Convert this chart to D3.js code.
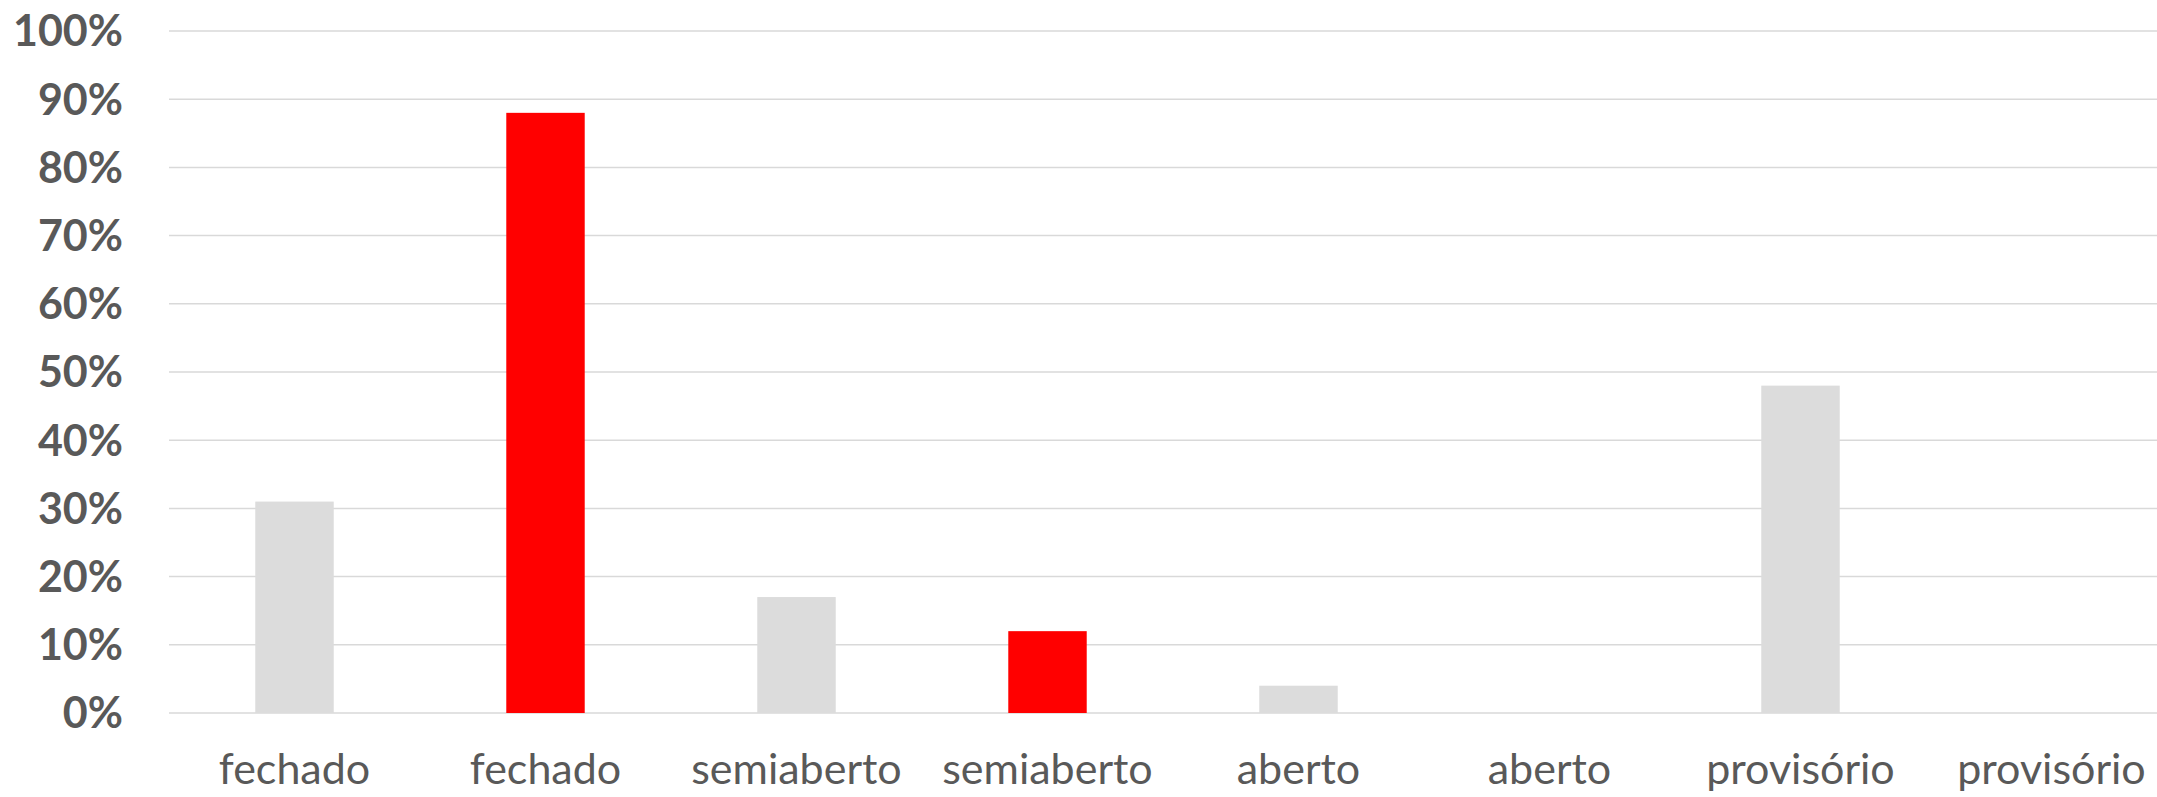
<!DOCTYPE html>
<html lang="pt">
  <head>
    <meta charset="utf-8" />
    <title>Regime</title>
    <script src="https://d3js.org/d3.v7.min.js"></script>
    <style>
      body { margin: 0; background: #fff; }
      .ylab { font-family: Lato, sans-serif; font-weight: bold; font-size: 43px; fill: #595959; }
      .xlab { font-family: Lato, sans-serif; font-size: 43px; fill: #595959; }
    </style>
  </head>
  <body>
    <svg width="2157" height="797"></svg>
    <script>
      // categories in drawing order (each regime appears twice: gray, then red)
      const categories = ["fechado", "fechado", "semiaberto", "semiaberto", "aberto", "aberto", "provisório", "provisório"];
      const values = [31, 88, 17, 12, 4, 0, 48, 0];
      const colors = ["#dcdcdc", "#ff0000", "#dcdcdc", "#ff0000", "#dcdcdc", "#ff0000", "#dcdcdc", "#ff0000"];
      const yTicks = [0, 10, 20, 30, 40, 50, 60, 70, 80, 90, 100];

      const data = categories.map((c, i) => ({ i: i, cat: c, value: values[i], color: colors[i] }));

      const svg = d3.select("svg");
      const plot = { left: 169, right: 2177, top: 31, bottom: 713 };

      const x = d3.scaleBand()
        .domain(d3.range(categories.length))
        .range([plot.left, plot.right])
        .paddingInner(0.6875)
        .paddingOuter(0.34375);

      const y = d3.scaleLinear().domain([0, 100]).range([plot.bottom, plot.top]);

      // gridlines
      svg.append("g")
        .selectAll("line")
        .data(yTicks)
        .enter()
        .append("line")
        .attr("x1", plot.left)
        .attr("x2", 2157)
        .attr("y1", (d) => y(d))
        .attr("y2", (d) => y(d))
        .attr("stroke", "#d9d9d9")
        .attr("stroke-width", 1.5);

      // y labels
      svg.append("g")
        .selectAll("text")
        .data(yTicks)
        .enter()
        .append("text")
        .attr("class", "ylab")
        .attr("x", 123)
        .attr("y", (d) => y(d))
        .attr("dy", "0.36em")
        .attr("text-anchor", "end")
        .text((d) => d + "%");

      // bars
      svg.append("g")
        .selectAll("rect")
        .data(data)
        .enter()
        .append("rect")
        .attr("x", (d) => x(d.i))
        .attr("width", x.bandwidth())
        .attr("y", (d) => y(d.value))
        .attr("height", (d) => y(0) - y(d.value))
        .attr("fill", (d) => d.color);

      // x labels
      svg.append("g")
        .selectAll("text")
        .data(data)
        .enter()
        .append("text")
        .attr("class", "xlab")
        .attr("x", (d) => x(d.i) + x.bandwidth() / 2)
        .attr("y", 784)
        .attr("text-anchor", "middle")
        .text((d) => d.cat);
    </script>
  </body>
</html>
